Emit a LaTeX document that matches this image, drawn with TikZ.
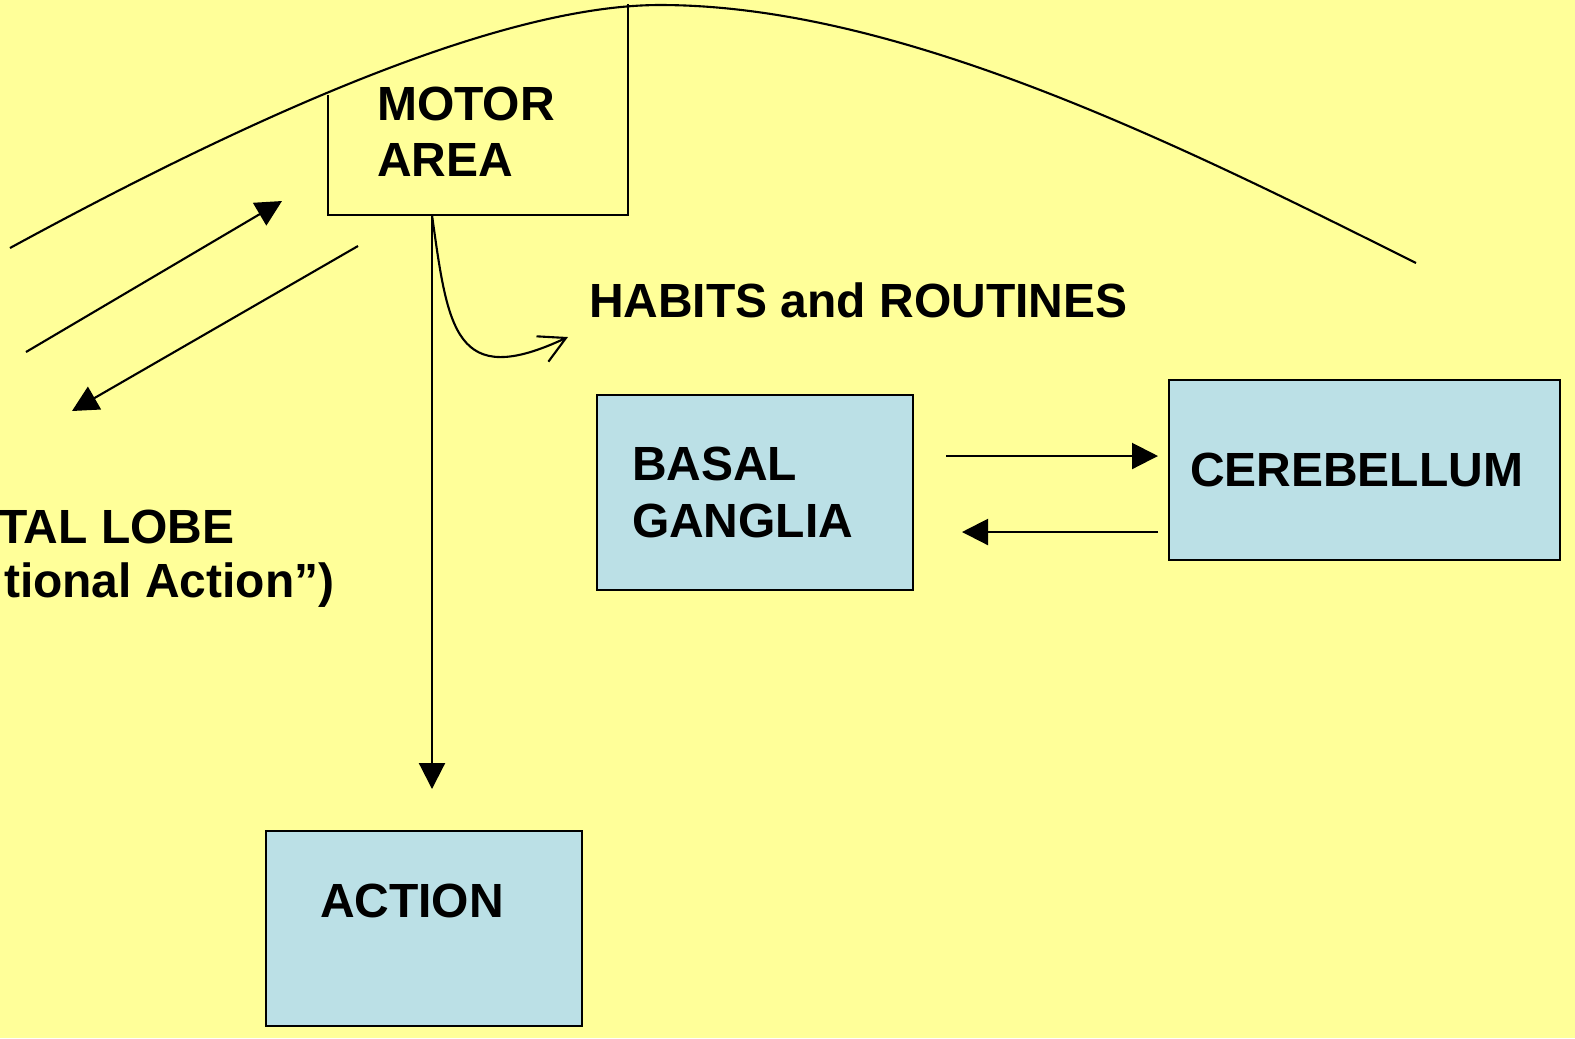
\documentclass[tikz,border=0pt]{standalone}
\usepackage{fontspec}
\setmainfont{Liberation Sans}
\usetikzlibrary{arrows.meta}
\tikzset{>={Triangle[length=2.6mm,width=2.6mm]}}
\definecolor{slidebg}{RGB}{255,255,153}
\definecolor{boxblue}{RGB}{187,224,230}
\tikzset{
  lbl/.style={font=\bfseries\fontsize{13.65}{16}\selectfont, inner sep=0pt, align=left},
  bluebox/.style={lbl, draw, fill=boxblue}
}

\begin{document}
\begin{tikzpicture}[line width=0.6pt]
    \path[use as bounding box, fill=slidebg] (0,0) rectangle (15.75,-10.38);
    \draw (0.10,-2.48) .. controls (3.0,-0.9) and (5.2,-0.05) .. (6.6,-0.05)
      .. controls (9.0,-0.05) and (11.8,-1.45) .. (14.16,-2.63);
    \draw (3.28,-0.95) |- (6.28,-2.15) -- (6.28,-0.04);
    \node[lbl, anchor=west] (motor) at (3.76,-1.32) {MOTOR\\AREA};
    \node[lbl, anchor=west] (habits) at (5.88,-3.00) {HABITS and ROUTINES};
    \node[lbl, anchor=base west] (frontal) at (-0.03,-5.43) {TAL LOBE};
    \node[lbl, anchor=base west] (frontalsub) at (0.03,-5.97) {tional Action”)};
    \node[bluebox, minimum width=3.16cm, minimum height=1.95cm, text width=2.46cm]
      (basal) at (7.55,-4.925) {BASAL\\GANGLIA};
    \node[bluebox, minimum width=3.91cm, minimum height=1.80cm, text width=3.49cm]
      (cereb) at (13.645,-4.70) {CEREBELLUM};
    \node[bluebox, minimum width=3.16cm, minimum height=1.95cm, text width=2.08cm]
      (action) at (4.24,-9.285) {ACTION\\\mbox{}};
    \coordinate (motorfoot) at (4.32,-2.15);
    \coordinate (actiontop) at (4.32,-7.89);
    \coordinate (habtip) at (5.68,-3.37);
    \coordinate (up0) at (0.26,-3.52);
    \coordinate (up1) at (2.82,-2.01);
    \coordinate (down0) at (3.58,-2.46);
    \coordinate (down1) at (0.72,-4.11);
    \coordinate (bc0) at (9.46,-4.56);
    \coordinate (bc1) at (11.58,-4.56);
    \coordinate (cb0) at (11.58,-5.32);
    \coordinate (cb1) at (9.62,-5.32);
    \draw[->] (up0) -- (up1);
    \draw[->] (down0) -- (down1);
    \draw[->] (motorfoot) -- (actiontop);
    \draw[-{Straight Barb[length=2.6mm,width=2.8mm]}] (motorfoot)
      .. controls (4.48,-3.30) and (4.55,-3.90) .. (habtip);
    \draw[->] (bc0) -- (bc1);
    \draw[->] (cb0) -- (cb1);
\end{tikzpicture}
\end{document}
